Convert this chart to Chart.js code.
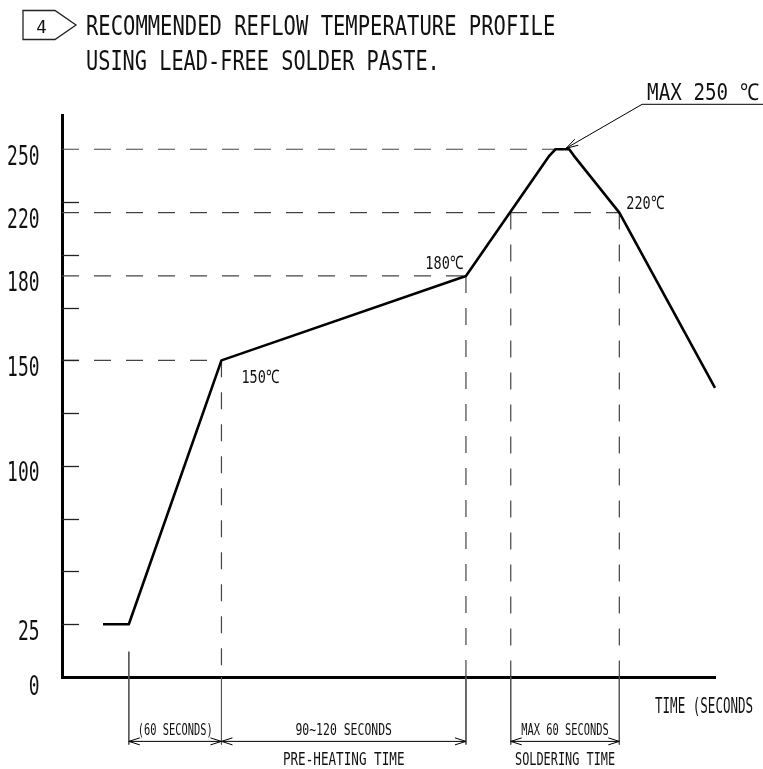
<!DOCTYPE html>
<html>
<head>
<meta charset="utf-8">
<script src="https://cdn.jsdelivr.net/npm/chart.js@4.4.1/dist/chart.umd.min.js"></script>
<style>
html, body { margin: 0; padding: 0; background: #fff; }
#wrap { width: 763px; height: 769px; }
</style>
</head>
<body>
<div id="wrap"><canvas id="myChart" width="763" height="769"></canvas></div>
<script>
// reflow profile, time in seconds, temperature in C
const profileTime = [27, 44, 105, 266, 321, 325, 334, 337, 367, 430];
const profileTemp = [25, 25, 150, 180, 247, 250, 250, 247, 220, 137];

// labelled temperatures on the axis
const tempTicks = [0, 25, 100, 150, 180, 220, 250];

// dashed level lines (temperature, where the line stops)
const levelTemp = [150, 180, 220, 250];
const levelTime = [105, 266, 367, 326];

// dashed drop lines down to the time axis
const dropTime = [105, 266, 295.5, 367];
const dropTemp = [150, 180, 220, 220];

// dimensions under the time axis
const spanFrom = [44, 105, 295.5];
const spanTo = [105, 266, 367];
const spanText = ['(60 SECONDS)', '90~120 SECONDS', 'MAX 60 SECONDS'];
const spanGroup = ['', 'PRE-HEATING TIME', 'SOLDERING TIME'];
const extTime = [44, 105, 266, 295.5, 367];
const extTop = [12, 0, 0, 0, 0];

// callouts on the curve
const noteTime = [105, 266, 367];
const noteTemp = [150, 180, 220];
const noteText = ['150℃', '180℃', '220℃'];

// leader to the peak
const leaderTime = [332, 382, 462];
const leaderTemp = [250.5, 271.3, 271.3];

// the drawing is not to scale between 150 and 220: 180 sits where 190 would be
const warpFrom = [150, 180, 220];
const warpTo = [150, 190, 220];

function warp(v) {
	if (v <= warpFrom[0] || v >= warpFrom[warpFrom.length - 1]) return v;
	for (let i = 1; i < warpFrom.length; i++) {
		if (v <= warpFrom[i]) {
			const f = (v - warpFrom[i - 1]) / (warpFrom[i] - warpFrom[i - 1]);
			return warpTo[i - 1] + f * (warpTo[i] - warpTo[i - 1]);
		}
	}
	return v;
}

class WarpScale extends Chart.LinearScale {
	getPixelForValue(v) {
		return super.getPixelForValue(warp(v));
	}
}
WarpScale.id = 'warp';
WarpScale.defaults = Chart.LinearScale.defaults;
Chart.register(WarpScale);

const dimY = -30.5;   // level of the dimension lines (below the axis)
const extBottom = -32;
const dashes = [17, 15];

function pts(xs, ys) {
	return xs.map((x, i) => ({ x: x, y: ys[i] }));
}

// condensed stroke-font look: mono font squeezed to the wanted width
function txt(ctx, s, x, y, cap, pitch, align) {
	const size = cap / 0.729;
	const w = s.length * pitch;
	ctx.save();
	ctx.font = size + 'px "DejaVu Sans Mono"';
	const sx = w / ctx.measureText(s).width;
	let x0 = x;
	if (align === 'center') x0 = x - w / 2;
	if (align === 'right') x0 = x - w;
	ctx.textAlign = 'left';
	ctx.textBaseline = 'alphabetic';
	ctx.fillStyle = '#111';
	ctx.translate(x0, y + cap / 2);
	ctx.scale(sx, 1);
	ctx.fillText(s, 0, 0);
	ctx.restore();
}

function arrowHead(ctx, tx, ty, fx, fy, len, half) {
	const d = Math.hypot(fx - tx, fy - ty);
	const ux = (fx - tx) / d, uy = (fy - ty) / d;
	ctx.beginPath();
	ctx.moveTo(tx + ux * len - uy * half, ty + uy * len + ux * half);
	ctx.lineTo(tx, ty);
	ctx.lineTo(tx + ux * len + uy * half, ty + uy * len - ux * half);
	ctx.stroke();
}

const drawing = {
	id: 'drawing',
	afterDatasetsDraw(chart) {
		const ctx = chart.ctx;
		const xs = chart.scales.x, ys = chart.scales.y;
		const area = chart.chartArea;

		// graduation marks every 25 along the axis
		ctx.save();
		ctx.strokeStyle = '#222';
		ctx.lineWidth = 1.3;
		for (let v = 25; v <= 225; v += 25) {
			const py = Math.round(Chart.LinearScale.prototype.getPixelForValue.call(ys, v)) + 0.5;
			ctx.beginPath();
			ctx.moveTo(area.left, py);
			ctx.lineTo(area.left + 17, py);
			ctx.stroke();
		}
		ctx.restore();

		// temperature labels
		tempTicks.forEach(v => {
			txt(ctx, String(v), 39.5, ys.getPixelForValue(v) + (v === 0 ? 8 : 6), 19, 10.8, 'right');
		});

		// arrowheads on the dimension lines
		ctx.save();
		ctx.strokeStyle = '#000';
		ctx.lineWidth = 1;
		spanFrom.forEach((t, i) => {
			const a = xs.getPixelForValue(t), b = xs.getPixelForValue(spanTo[i]);
			const py = ys.getPixelForValue(dimY);
			arrowHead(ctx, a, py, b, py, 11, 3.5);
			arrowHead(ctx, b, py, a, py, 11, 3.5);
			const mid = (a + b) / 2;
			txt(ctx, spanText[i], mid, py - 12, 11.5, i === 1 ? 6.9 : 6.25, 'center');
			if (spanGroup[i]) txt(ctx, spanGroup[i], mid, py + 17, 13, i === 1 ? 7.6 : 7.15, 'center');
		});

		// leader arrow to the peak
		arrowHead(ctx, xs.getPixelForValue(leaderTime[0]), ys.getPixelForValue(leaderTemp[0]),
			xs.getPixelForValue(leaderTime[1]), ys.getPixelForValue(leaderTemp[1]), 12, 3.5);
		ctx.restore();
		txt(ctx, 'MAX 250 ℃', xs.getPixelForValue(leaderTime[1]) + 5, ys.getPixelForValue(leaderTemp[1]) - 13, 17, 12.4, 'left');

		// callouts
		const pos = [[20, 15.5, 'left'], [-3, -13.5, 'right'], [7, -10, 'left']];
		noteText.forEach((s, i) => {
			const px = xs.getPixelForValue(noteTime[i]), py = ys.getPixelForValue(noteTemp[i]);
			txt(ctx, s, px + pos[i][0], py + pos[i][1], 13.5, 9.4, pos[i][2]);
		});

		// axis title
		txt(ctx, 'TIME (SECONDS', area.right - 60, area.bottom + 28, 15, 7.55, 'left');

		// heading with the note flag
		ctx.save();
		ctx.strokeStyle = '#222';
		ctx.lineWidth = 1.3;
		ctx.beginPath();
		ctx.moveTo(23, 10.5);
		ctx.lineTo(55, 10.5);
		ctx.lineTo(76, 25);
		ctx.lineTo(55, 39.5);
		ctx.lineTo(23, 39.5);
		ctx.closePath();
		ctx.stroke();
		ctx.restore();
		txt(ctx, '4', 41.5, 26, 13.5, 10.5, 'center');
		txt(ctx, 'RECOMMENDED REFLOW TEMPERATURE PROFILE', 86, 25, 20, 12.35, 'left');
		txt(ctx, 'USING LEAD-FREE SOLDER PASTE.', 86, 60, 20, 12.2, 'left');
	}
};

const guide = { borderColor: '#444', borderWidth: 1.2, borderDash: dashes };
const thin = { borderColor: '#555', borderWidth: 1 };

const datasets = [
	{ data: pts(profileTime, profileTemp), borderColor: '#000', borderWidth: 2.6, borderJoinStyle: 'round' }
];
levelTemp.forEach((v, i) => datasets.push(Object.assign({ data: [{ x: 0, y: v }, { x: levelTime[i], y: v }] }, guide)));
dropTime.forEach((t, i) => datasets.push(Object.assign({ data: [{ x: t, y: dropTemp[i] }, { x: t, y: 0 }] }, guide)));
extTime.forEach((t, i) => datasets.push(Object.assign({ data: [{ x: t, y: extTop[i] }, { x: t, y: extBottom }] }, thin)));
spanFrom.forEach((t, i) => datasets.push({ data: [{ x: t, y: dimY }, { x: spanTo[i], y: dimY }], borderColor: '#000', borderWidth: 1 }));
datasets.push({ data: pts(leaderTime, leaderTemp), borderColor: '#000', borderWidth: 1 });

datasets.forEach(d => {
	d.pointRadius = 0;
	d.tension = 0;
	d.fill = false;
	d.clip = false;
});

var ctx = document.getElementById('myChart').getContext('2d');
var myChart = new Chart(ctx, {
	type: 'line',
	data: { datasets: datasets },
	options: {
		responsive: false,
		animation: false,
		devicePixelRatio: 1,
		events: [],
		layout: { padding: { left: 62, right: 48, top: 115.5, bottom: 92 } },
		plugins: { legend: { display: false }, tooltip: { enabled: false } },
		scales: {
			x: {
				type: 'linear', min: 0, max: 430,
				grid: { display: false, drawTicks: false },
				ticks: { display: false },
				border: { display: true, width: 3, color: '#000' }
			},
			y: {
				type: 'warp', min: 0, max: 266,
				grid: { display: false, drawTicks: false },
				ticks: { display: false },
				border: { display: true, width: 3, color: '#000' }
			}
		}
	},
	plugins: [drawing]
});
</script>
</body>
</html>
